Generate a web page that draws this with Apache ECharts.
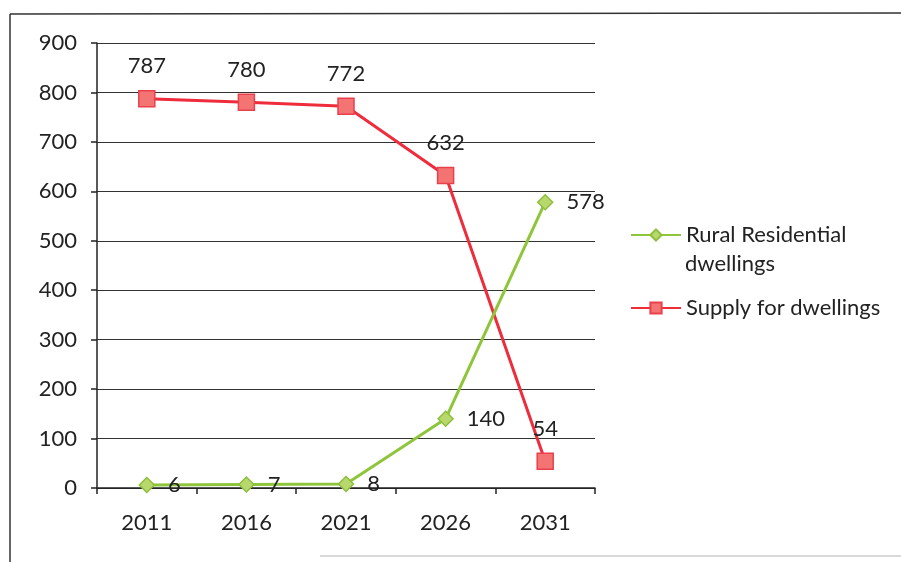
<!DOCTYPE html>
<html>
<head>
<meta charset="utf-8">
<script src="https://cdn.jsdelivr.net/npm/echarts@6/dist/echarts.min.js"></script>
<style>
  html, body { margin: 0; padding: 0; background: #fff; }
  #chart { width: 901px; height: 562px; }
</style>
</head>
<body>
<div id="chart"></div>
<script>
// Census years along the horizontal axis
const years = ['2011', '2016', '2021', '2026', '2031'];
// Projected rural residential dwellings
const ruralDwellings = [6, 7, 8, 140, 578];
// Remaining supply for dwellings
const dwellingSupply = [787, 780, 772, 632, 54];
// Vertical axis range and step
const yMin = 0;
const yMax = 900;
const yStep = 100;

const RURAL = 'Rural Residential dwellings';
const SUPPLY = 'Supply for dwellings';

const FONT = 'Lato, "Liberation Sans", sans-serif';
const SIZE = 22;
const TEXT = '#222';

const chart = echarts.init(document.getElementById('chart'), null, { renderer: 'canvas' });

const legendText = { fontFamily: FONT, fontSize: SIZE, color: TEXT, lineHeight: 22 };

chart.setOption({
  backgroundColor: '#fff',
  animation: false,
  textStyle: { fontFamily: FONT },
  grid: { left: 97, right: 306, top: 43, bottom: 74, containLabel: false },
  legend: [
    {
      // first entry wraps onto a second line drawn below it
      left: 625,
      top: 219,
      itemWidth: 50,
      itemHeight: 14,
      textStyle: legendText,
      formatter: function () { return 'Rural Residential'; },
      data: [RURAL]
    },
    {
      left: 625,
      top: 292,
      itemWidth: 50,
      itemHeight: 14,
      textStyle: legendText,
      data: [SUPPLY]
    }
  ],
  xAxis: {
    type: 'category',
    data: years,
    boundaryGap: true,
    axisLine: { show: true, lineStyle: { color: '#222', width: 1.5 } },
    axisTick: { show: true, inside: false, length: 6, alignWithLabel: false, lineStyle: { color: '#222', width: 1.5 } },
    axisLabel: { fontFamily: FONT, fontSize: SIZE, color: TEXT, margin: 24 },
    splitLine: { show: false }
  },
  yAxis: {
    type: 'value',
    min: yMin,
    max: yMax,
    interval: yStep,
    axisLine: { show: true, lineStyle: { color: '#222', width: 1.5 } },
    axisTick: { show: true, inside: false, length: 6, lineStyle: { color: '#222', width: 1.5 } },
    axisLabel: { fontFamily: FONT, fontSize: SIZE, color: TEXT, margin: 20 },
    splitLine: { show: true, lineStyle: { color: '#333', width: 1.2 } }
  },
  series: [
    {
      name: RURAL,
      type: 'line',
      data: ruralDwellings,
      symbol: 'diamond',
      symbolSize: 15,
      lineStyle: { color: '#8fc53a', width: 3 },
      itemStyle: { color: '#b8d86e', borderColor: '#8cbf3c', borderWidth: 1.5 },
      label: {
        show: true,
        position: 'right',
        distance: 13,
        fontFamily: FONT,
        fontSize: SIZE,
        color: TEXT
      },
      z: 3
    },
    {
      name: SUPPLY,
      type: 'line',
      data: dwellingSupply,
      symbol: 'rect',
      symbolSize: 16,
      lineStyle: { color: '#ee2c3c', width: 3 },
      itemStyle: { color: '#f47474', borderColor: '#e8404c', borderWidth: 1.5 },
      label: {
        show: true,
        position: 'top',
        distance: 13,
        fontFamily: FONT,
        fontSize: SIZE,
        color: TEXT
      },
      z: 2
    }
  ],
  graphic: [
    // second line of the first legend entry
    {
      type: 'text',
      left: 685,
      top: 253,
      style: { text: 'dwellings', font: SIZE + 'px ' + FONT, fill: TEXT }
    },
    // frame around the chart area
    { type: 'line', shape: { x1: 10, y1: 14, x2: 901, y2: 13 }, style: { stroke: '#333', lineWidth: 1.5 } },
    { type: 'line', shape: { x1: 10, y1: 14, x2: 10, y2: 562 }, style: { stroke: '#333', lineWidth: 1.5 } },
    { type: 'line', shape: { x1: 320, y1: 556, x2: 901, y2: 556 }, style: { stroke: '#ccc', lineWidth: 1.5 } }
  ]
});
</script>
</body>
</html>
